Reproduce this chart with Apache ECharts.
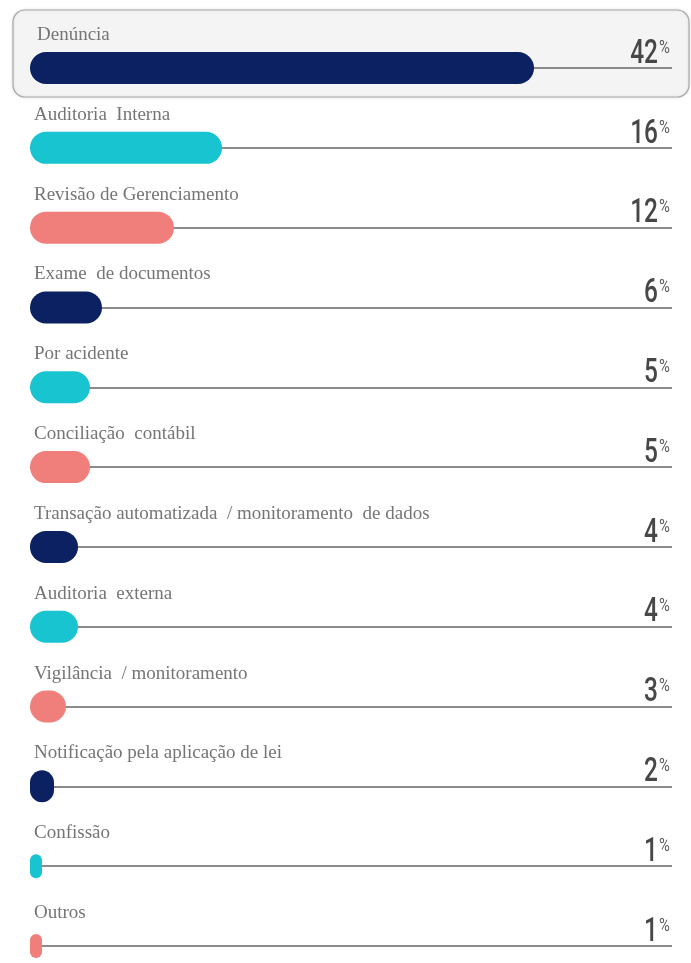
<!DOCTYPE html>
<html>
<head>
<meta charset="utf-8">
<title>Métodos de detecção</title>
<script src="https://cdn.jsdelivr.net/npm/echarts@6/dist/echarts.min.js"></script>
<style>
  html, body { margin: 0; padding: 0; background: #ffffff; }
  #chart { width: 691px; height: 963px; }
</style>
</head>
<body>
<div id="chart"></div>
<script>
// Detection methods and their share of cases (%)
const categories = [
  'Denúncia',
  'Auditoria  Interna',
  'Revisão de Gerenciamento',
  'Exame  de documentos',
  'Por acidente',
  'Conciliação  contábil',
  'Transação automatizada  / monitoramento  de dados',
  'Auditoria  externa',
  'Vigilância  / monitoramento',
  'Notificação pela aplicação de lei',
  'Confissão',
  'Outros'
];
const values = [42, 16, 12, 6, 5, 5, 4, 4, 3, 2, 1, 1];
const palette = ['#0b2161', '#17c4d0', '#f07f7c'];

// full length of each track, in percent units
const trackMax = 53.5;
const barThickness = 32;

const chart = echarts.init(document.getElementById('chart'));

const numberFont = 'Roboto, "DejaVu Sans", sans-serif';

chart.setOption({
  animation: false,
  backgroundColor: '#ffffff',
  graphic: [{
    type: 'rect',
    z: -10,
    shape: { x: 13, y: 10, width: 676, height: 87, r: 12 },
    style: {
      fill: '#f4f4f4',
      stroke: '#a9a9a9',
      lineWidth: 1.2,
      shadowBlur: 3,
      shadowColor: 'rgba(0,0,0,0.12)'
    }
  }],
  grid: { left: 30, right: 19, top: 68, bottom: 17 },
  xAxis: {
    type: 'value',
    min: 0,
    max: trackMax,
    show: false
  },
  yAxis: {
    type: 'category',
    data: categories,
    inverse: true,
    boundaryGap: false,
    axisLine: { show: false },
    axisTick: { show: false },
    axisLabel: { show: false },
    splitLine: { show: true, lineStyle: { color: '#8b8b8b', width: 2 } }
  },
  series: [
    {
      // rounded bars; very short bars shrink to an oval
      type: 'custom',
      z: 3,
      clip: false,
      data: values.map((v, i) => [v, i]),
      encode: { x: 0, y: 1 },
      renderItem: function (params, api) {
        const i = params.dataIndex;
        const start = api.coord([0, i]);
        const end = api.coord([api.value(0), i]);
        const w = end[0] - start[0];
        const h = Math.min(barThickness, w * 2);
        return {
          type: 'rect',
          shape: {
            x: start[0],
            y: start[1] - h / 2,
            width: w,
            height: h,
            r: Math.min(w, h) / 2
          },
          style: { fill: palette[i % palette.length] }
        };
      }
    },
    {
      // category names above each bar and the percentage at the end of each track
      type: 'custom',
      z: 4,
      clip: false,
      data: values.map((v, i) => [v, i]),
      encode: { x: 0, y: 1 },
      renderItem: function (params, api) {
        const i = params.dataIndex;
        const v = api.value(0);
        const start = api.coord([0, i]);
        const end = api.coord([trackMax, i]);
        return {
          type: 'group',
          children: [
            {
              type: 'text',
              style: {
                text: categories[i],
                x: start[0] + (i === 0 ? 7 : 4),
                y: start[1] - 33,
                fontFamily: '"Liberation Serif", "DejaVu Serif", serif',
                fontSize: 19,
                fill: '#757575',
                align: 'left',
                verticalAlign: 'middle'
              }
            },
            {
              type: 'text',
              x: end[0] - 14,
              y: end[1] - 13.5,
              scaleX: 0.74,
              style: {
                text: String(v),
                x: 0,
                y: 0,
                fontFamily: numberFont,
                fontWeight: 500,
                fontSize: 33,
                fill: '#474747',
                align: 'right',
                verticalAlign: 'middle'
              }
            },
            {
              type: 'text',
              x: end[0] - 13,
              y: end[1] - 20,
              scaleX: 0.78,
              style: {
                text: '%',
                x: 0,
                y: 0,
                fontFamily: numberFont,
                fontSize: 19,
                fill: '#5a5a5a',
                align: 'left',
                verticalAlign: 'middle'
              }
            }
          ]
        };
      }
    }
  ]
});
</script>
</body>
</html>
